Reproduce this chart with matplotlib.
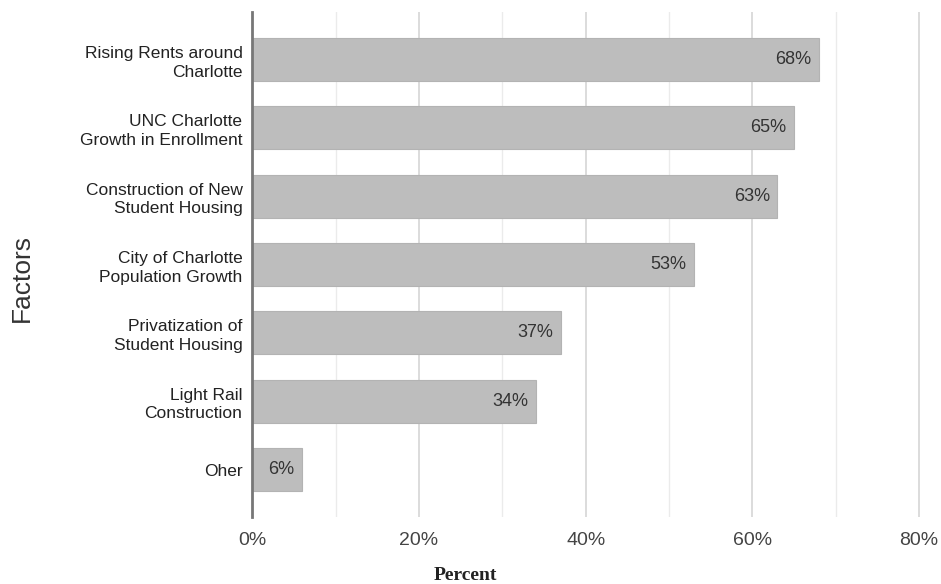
import matplotlib.pyplot as plt
from matplotlib.ticker import MultipleLocator, FuncFormatter

factors = ["Rising Rents around\nCharlotte", "UNC Charlotte\nGrowth in Enrollment",
           "Construction of New\nStudent Housing", "City of Charlotte\nPopulation Growth",
           "Privatization of\nStudent Housing", "Light Rail\nConstruction", "Oher"]
percents = [68, 65, 63, 53, 37, 34, 6]

plt.rcParams['font.family'] = ['Liberation Sans', 'DejaVu Sans']

fig = plt.figure(figsize=(9.41, 5.84), dpi=100)
ax = fig.add_axes([0.268, 0.115, 0.722, 0.864])

ypos = list(range(len(factors)))
ax.barh(ypos, percents, height=0.63, color="#bdbdbd", edgecolor="#b3b3b3", linewidth=0.8, zorder=3)
for y, v in zip(ypos, percents):
    ax.text(v - 0.9, y, "%d%%" % v, ha="right", va="center", fontsize=13, color="#333333", zorder=4)

ax.set_yticks(ypos)
ax.set_yticklabels(factors, fontsize=12.5, color="#222222", linespacing=1.3)
ax.set_ylim(len(factors) - 1 + 0.69, -0.69)
ax.set_xlim(0, 81.5)

ax.xaxis.set_major_locator(MultipleLocator(20))
ax.xaxis.set_minor_locator(MultipleLocator(10))
ax.xaxis.set_major_formatter(FuncFormatter(lambda x, p: "%d%%" % x))
ax.grid(axis="x", which="major", color="#d6d6d6", linewidth=1.2, zorder=0)
ax.grid(axis="x", which="minor", color="#ebebeb", linewidth=1.0, zorder=0)
ax.tick_params(axis="x", which="both", length=0, labelsize=14, labelcolor="#444444", pad=11)
ax.tick_params(axis="y", length=0, pad=7)

for s in ["top", "right", "bottom"]:
    ax.spines[s].set_visible(False)
ax.spines["left"].set_color("#777777")
ax.spines["left"].set_linewidth(2)
ax.spines["left"].set_zorder(5)

ax.set_ylabel("Factors", fontsize=19, color="#333333")
ax.yaxis.set_label_coords(-0.322, 0.473)
fig.text(0.494, 1 - 575 / 584, "Percent", ha="center", va="center", fontsize=14,
         fontweight="bold", family="Liberation Serif", color="#222222")

fig.savefig("out.png", dpi=100)
